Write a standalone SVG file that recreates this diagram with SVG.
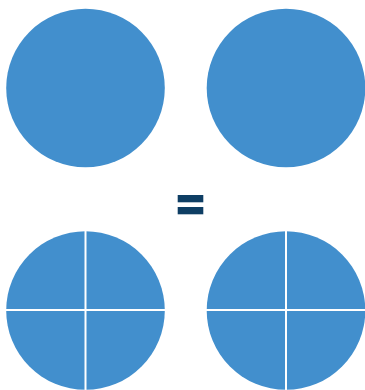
<svg xmlns="http://www.w3.org/2000/svg" width="365" height="390" viewBox="0 0 365 390">
<style>
.c{fill:#428fcd}
.d{stroke:#ffffff;stroke-width:2}
.eq{fill:#0e3e64}
</style>
<rect width="365" height="390" fill="#ffffff"/>
<g id="whole1"><circle class="c" cx="85.5" cy="88" r="79.3"/></g>
<g id="whole2"><circle class="c" cx="286" cy="88" r="79.3"/></g>
<g id="equals">
<rect class="eq" x="177.7" y="195" width="25.6" height="7.3"/>
<rect class="eq" x="177.7" y="207" width="25.6" height="7.3"/>
</g>
<g id="quarters1">
<circle class="c" cx="85.5" cy="310.5" r="79.3"/>
<line class="d" x1="85.5" y1="230" x2="85.5" y2="391"/>
<line class="d" x1="5" y1="310" x2="166" y2="310"/>
</g>
<g id="quarters2">
<circle class="c" cx="286" cy="310.5" r="79.3"/>
<line class="d" x1="286" y1="230" x2="286" y2="391"/>
<line class="d" x1="205" y1="310" x2="366" y2="310"/>
</g>
</svg>
